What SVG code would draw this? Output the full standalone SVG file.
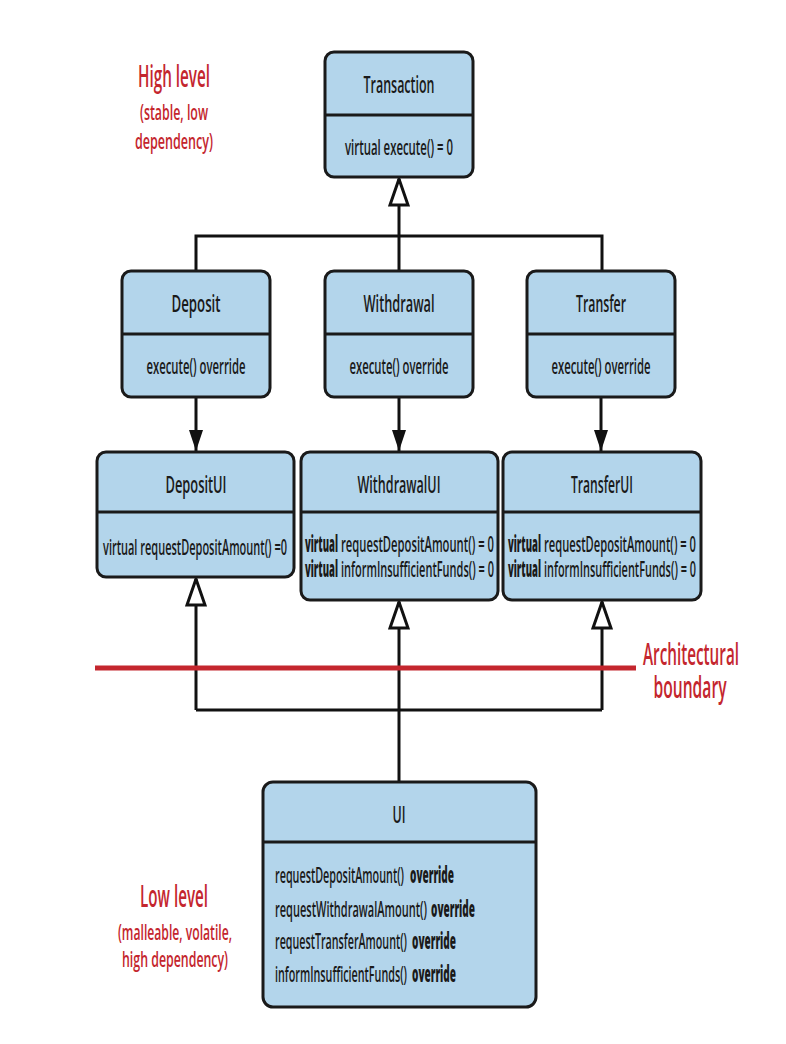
<svg xmlns="http://www.w3.org/2000/svg" width="786" height="1044" viewBox="0 0 786 1044">
<style>
  .box { fill: #b3d5eb; stroke: #1a1a1a; stroke-width: 3; }
  .div { stroke: #1a1a1a; stroke-width: 3; }
  text { font-family: "Open Sans", "Liberation Sans", sans-serif; fill: #1a1a1a; font-weight: 600; }
  .title { font-size: 24px; text-anchor: middle; }
  .body { font-size: 22px; text-anchor: middle; }
  .left { font-size: 22px; text-anchor: start; }
  .b { font-weight: 800; }
  .red { fill: #c4262e; text-anchor: middle; }
  .redH { font-size: 31px; }
  .redS { font-size: 21px; }
  .conn { fill: none; stroke: #111; stroke-width: 3; }
</style>
<defs>
  <marker id="hollow" markerUnits="userSpaceOnUse" viewBox="-2 -2 30 22" markerWidth="30" markerHeight="22" refX="26" refY="9" orient="auto">
    <path d="M0,0 L26,9 L0,18 Z" fill="#fff" stroke="#111" stroke-width="3" stroke-linejoin="miter"/>
  </marker>
  <marker id="filled" markerUnits="userSpaceOnUse" viewBox="0 0 21 14" markerWidth="21" markerHeight="14" refX="21" refY="7" orient="auto">
    <path d="M0,0 L21,7 L0,14 Z" fill="#111"/>
  </marker>
</defs>
<rect width="786" height="1044" fill="#fff"/>

<g id="labels">
  <text class="red redH" transform="translate(174,87) scale(0.5,1)" textLength="144" lengthAdjust="spacingAndGlyphs">High level</text>
  <text class="red redS" transform="translate(174,120) scale(0.6,1)" textLength="113.3" lengthAdjust="spacingAndGlyphs">(stable, low</text>
  <text class="red redS" transform="translate(174,149) scale(0.6,1)" textLength="130" lengthAdjust="spacingAndGlyphs">dependency)</text>
  <text class="red redH" transform="translate(174,907) scale(0.5,1)" textLength="136" lengthAdjust="spacingAndGlyphs">Low level</text>
  <text class="red redS" transform="translate(175,940) scale(0.6,1)" textLength="190" lengthAdjust="spacingAndGlyphs">(malleable, volatile,</text>
  <text class="red redS" transform="translate(175,967) scale(0.6,1)" textLength="176.7" lengthAdjust="spacingAndGlyphs">high dependency)</text>
  <text class="red redH" transform="translate(691,665) scale(0.5,1)" textLength="192" lengthAdjust="spacingAndGlyphs">Architectural</text>
  <text class="red redH" transform="translate(690,698) scale(0.5,1)" textLength="146" lengthAdjust="spacingAndGlyphs">boundary</text>
</g>

<g id="connectors">
  <path class="conn" d="M196,271 V236 H602 V271"/>
  <path class="conn" d="M399,271 V179" marker-end="url(#hollow)"/>
  <path class="conn" d="M196,397 V451" marker-end="url(#filled)"/>
  <path class="conn" d="M399,397 V451" marker-end="url(#filled)"/>
  <path class="conn" d="M601,397 V451" marker-end="url(#filled)"/>
  <path class="conn" d="M196,710 H602"/>
  <path class="conn" d="M196,710 V579" marker-end="url(#hollow)"/>
  <path class="conn" d="M602,710 V602" marker-end="url(#hollow)"/>
  <path class="conn" d="M399,781 V602" marker-end="url(#hollow)"/>
</g>

<path id="boundary" d="M95,668 H636" stroke="#c4262e" stroke-width="5" fill="none"/>

<g id="Transaction">
  <rect class="box" x="325" y="52" width="148" height="125" rx="9"/>
  <line class="div" x1="325" y1="115" x2="473" y2="115"/>
  <text class="title" transform="translate(399,93) scale(0.52,1)" textLength="136.5" lengthAdjust="spacingAndGlyphs">Transaction</text>
  <text class="body" transform="translate(399,155) scale(0.5,1)" textLength="216" lengthAdjust="spacingAndGlyphs">virtual execute() = 0</text>
</g>

<g id="Deposit">
  <rect class="box" x="122" y="271" width="148" height="126" rx="9"/>
  <line class="div" x1="122" y1="334" x2="270" y2="334"/>
  <text class="title" transform="translate(196,312) scale(0.52,1)" textLength="94.2" lengthAdjust="spacingAndGlyphs">Deposit</text>
  <text class="body" transform="translate(196,374) scale(0.5,1)" textLength="198" lengthAdjust="spacingAndGlyphs">execute() override</text>
</g>

<g id="Withdrawal">
  <rect class="box" x="325" y="271" width="148" height="126" rx="9"/>
  <line class="div" x1="325" y1="334" x2="473" y2="334"/>
  <text class="title" transform="translate(399,312) scale(0.52,1)" textLength="136.5" lengthAdjust="spacingAndGlyphs">Withdrawal</text>
  <text class="body" transform="translate(399,374) scale(0.5,1)" textLength="198" lengthAdjust="spacingAndGlyphs">execute() override</text>
</g>

<g id="Transfer">
  <rect class="box" x="527" y="271" width="148" height="126" rx="9"/>
  <line class="div" x1="527" y1="334" x2="675" y2="334"/>
  <text class="title" transform="translate(601,312) scale(0.52,1)" textLength="96.2" lengthAdjust="spacingAndGlyphs">Transfer</text>
  <text class="body" transform="translate(601,374) scale(0.5,1)" textLength="198" lengthAdjust="spacingAndGlyphs">execute() override</text>
</g>

<g id="DepositUI">
  <rect class="box" x="97" y="452" width="197" height="125" rx="9"/>
  <line class="div" x1="97" y1="512" x2="294" y2="512"/>
  <text class="title" transform="translate(196,493) scale(0.52,1)" textLength="117.3" lengthAdjust="spacingAndGlyphs">DepositUI</text>
  <text class="body" transform="translate(195,555) scale(0.5,1)" textLength="368" lengthAdjust="spacingAndGlyphs">virtual requestDepositAmount() =0</text>
</g>

<g id="WithdrawalUI">
  <rect class="box" x="301" y="452" width="197" height="148" rx="9"/>
  <line class="div" x1="301" y1="512" x2="498" y2="512"/>
  <text class="title" transform="translate(399,493) scale(0.52,1)" textLength="159.6" lengthAdjust="spacingAndGlyphs">WithdrawalUI</text>
  <text class="left b" transform="translate(305,552) scale(0.44,1)" textLength="75" lengthAdjust="spacingAndGlyphs">virtual</text>
  <text class="left" transform="translate(341,552) scale(0.5,1)" textLength="306" lengthAdjust="spacingAndGlyphs">requestDepositAmount() = 0</text>
  <text class="left b" transform="translate(305,577) scale(0.44,1)" textLength="75" lengthAdjust="spacingAndGlyphs">virtual</text>
  <text class="left" transform="translate(341,577) scale(0.5,1)" textLength="306" lengthAdjust="spacingAndGlyphs">informInsufficientFunds() = 0</text>
</g>

<g id="TransferUI">
  <rect class="box" x="503" y="452" width="198" height="148" rx="9"/>
  <line class="div" x1="503" y1="512" x2="701" y2="512"/>
  <text class="title" transform="translate(602,493) scale(0.52,1)" textLength="119.2" lengthAdjust="spacingAndGlyphs">TransferUI</text>
  <text class="left b" transform="translate(508,552) scale(0.44,1)" textLength="75" lengthAdjust="spacingAndGlyphs">virtual</text>
  <text class="left" transform="translate(544,552) scale(0.5,1)" textLength="304" lengthAdjust="spacingAndGlyphs">requestDepositAmount() = 0</text>
  <text class="left b" transform="translate(508,577) scale(0.44,1)" textLength="75" lengthAdjust="spacingAndGlyphs">virtual</text>
  <text class="left" transform="translate(544,577) scale(0.5,1)" textLength="304" lengthAdjust="spacingAndGlyphs">informInsufficientFunds() = 0</text>
</g>

<g id="UI">
  <rect class="box" x="263" y="782" width="273" height="225" rx="10"/>
  <line class="div" x1="263" y1="842" x2="536" y2="842"/>
  <text class="title" transform="translate(399,823) scale(0.52,1)" textLength="25" lengthAdjust="spacingAndGlyphs">UI</text>
  <text class="left" transform="translate(275,883) scale(0.5,1)" textLength="258" lengthAdjust="spacingAndGlyphs">requestDepositAmount()</text>
  <text class="left b" transform="translate(410,883) scale(0.46,1)" textLength="95.7" lengthAdjust="spacingAndGlyphs">override</text>
  <text class="left" transform="translate(275,917) scale(0.5,1)" textLength="304" lengthAdjust="spacingAndGlyphs">requestWithdrawalAmount()</text>
  <text class="left b" transform="translate(431,917) scale(0.46,1)" textLength="95.7" lengthAdjust="spacingAndGlyphs">override</text>
  <text class="left" transform="translate(275,949) scale(0.5,1)" textLength="264" lengthAdjust="spacingAndGlyphs">requestTransferAmount()</text>
  <text class="left b" transform="translate(412,949) scale(0.46,1)" textLength="95.7" lengthAdjust="spacingAndGlyphs">override</text>
  <text class="left" transform="translate(275,982) scale(0.5,1)" textLength="264" lengthAdjust="spacingAndGlyphs">informInsufficientFunds()</text>
  <text class="left b" transform="translate(412,982) scale(0.46,1)" textLength="95.7" lengthAdjust="spacingAndGlyphs">override</text>
</g>
</svg>
